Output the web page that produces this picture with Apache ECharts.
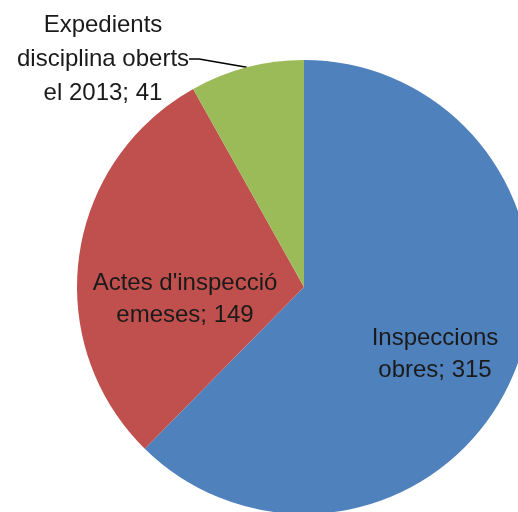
<!DOCTYPE html>
<html><head><meta charset="utf-8">
<script src="https://cdn.jsdelivr.net/npm/echarts@6/dist/echarts.min.js"></script>
<style>html,body{margin:0;padding:0;background:#fff}#c{width:518px;height:512px}</style>
</head><body><div id="c"></div>
<script>
var categories = ["Inspeccions\nobres", "Actes d'inspecció\nemeses", "Expedients\ndisciplina oberts\nel 2013"];
var values = [315, 149, 41];
var colors = ['#4F81BD', '#C0504D', '#9BBB59'];
// label anchor points (centre of each label block)
var labelPos = [[435, 354], [185, 299], [103, 59]];

var chart = echarts.init(document.getElementById('c'));
chart.setOption({
  animation: false,
  series: [{
    type: 'pie',
    center: [304, 287],
    radius: 227,
    startAngle: 90,
    clockwise: true,
    silent: true,
    itemStyle: {borderWidth: 0},
    label: {
      show: true,
      position: 'inside',
      formatter: '{b}; {c}',
      fontFamily: 'Liberation Sans, Arial, sans-serif',
      fontSize: 24,
      lineHeight: 32,
      color: '#1a1a1a',
      align: 'center'
    },
    labelLine: {show: false},
    labelLayout: function (p) {
      var pos = labelPos[p.dataIndex];
      return {x: pos[0], y: pos[1], align: 'center', verticalAlign: 'middle'};
    },
    data: categories.map(function (c, i) {
      var d = {name: c, value: values[i], itemStyle: {color: colors[i]}};
      if (i === 2) {
        d.label = {position: 'outside', lineHeight: 34};
        d.labelLine = {show: true, length: 10, length2: 10, lineStyle: {color: '#000', width: 1.5}};
      }
      return d;
    })
  }]
});
</script></body></html>
